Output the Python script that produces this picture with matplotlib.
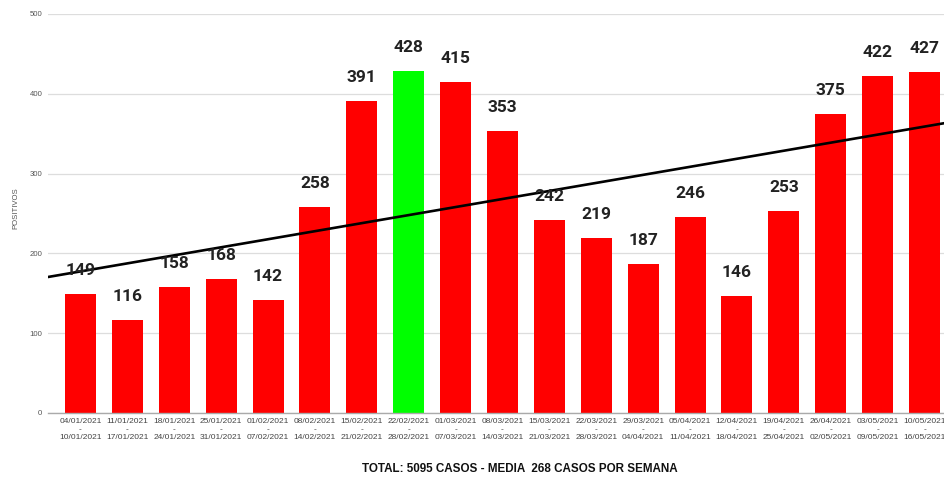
import numpy as np
import matplotlib
matplotlib.use('Agg')
import matplotlib.pyplot as plt

plt.rcParams['font.family'] = ['Liberation Sans', 'DejaVu Sans']

# Weekly data
week_start = ['04/01/2021', '11/01/2021', '18/01/2021', '25/01/2021', '01/02/2021',
              '08/02/2021', '15/02/2021', '22/02/2021', '01/03/2021', '08/03/2021',
              '15/03/2021', '22/03/2021', '29/03/2021', '05/04/2021', '12/04/2021',
              '19/04/2021', '26/04/2021', '03/05/2021', '10/05/2021']
week_end = ['10/01/2021', '17/01/2021', '24/01/2021', '31/01/2021', '07/02/2021',
            '14/02/2021', '21/02/2021', '28/02/2021', '07/03/2021', '14/03/2021',
            '21/03/2021', '28/03/2021', '04/04/2021', '11/04/2021', '18/04/2021',
            '25/04/2021', '02/05/2021', '09/05/2021', '16/05/2021']
positivos = [149, 116, 158, 168, 142, 258, 391, 428, 415, 353,
             242, 219, 187, 246, 146, 253, 375, 422, 427]

x = np.arange(len(positivos))
colors = ['#ff0000'] * len(positivos)
colors[int(np.argmax(positivos))] = '#00ff00'

fig = plt.figure(figsize=(9.44, 4.79), dpi=100)
ax = fig.add_axes([0.0508, 0.1378, 0.9492, 0.833])

ax.bar(x, positivos, width=0.66, color=colors, zorder=2)

x0, x1 = -0.693, len(positivos) - 0.585

# Trend line (linear fit)
coef = np.polyfit(x, positivos, 1)
xt = np.array([x0, x1])
ax.plot(xt, np.polyval(coef, xt), color='black', linewidth=1.9, zorder=3)

for xi, v in zip(x, positivos):
    ax.annotate(str(v), (xi, v), xytext=(0, 17), textcoords='offset points',
                ha='center', va='center', fontsize=12.5, fontweight='bold',
                family=['Roboto', 'DejaVu Sans'], color='#222222', zorder=4)

ax.set_xlim(x0, x1)
ax.set_ylim(0, 500)
ax.set_yticks([0, 100, 200, 300, 400, 500])
ax.set_xticks(x)
ax.set_xticklabels([f'{a}\n-\n{b}' for a, b in zip(week_start, week_end)],
                   fontsize=6.0, color='#444444', linespacing=1.2)
ax.tick_params(axis='x', length=0, pad=3.5)
ax.tick_params(axis='y', length=0, labelsize=5.6, labelcolor='#555555', pad=4)
ax.grid(axis='y', color='#dddddd', linewidth=0.9, zorder=0)
for s in ['top', 'right', 'left']:
    ax.spines[s].set_visible(False)
ax.spines['bottom'].set_color('#aaaaaa')
ax.spines['bottom'].set_linewidth(1.0)

fig.text(0.0165, 0.565, 'POSITIVOS', rotation=90, fontsize=5.6, color='#555555',
         ha='center', va='center')
fig.text(0.551, 0.021, 'TOTAL: 5095 CASOS - MEDIA  268 CASOS POR SEMANA',
         fontsize=8.4, fontweight='bold', ha='center', va='center', color='#111111')

fig.savefig('out.png', dpi=100)
